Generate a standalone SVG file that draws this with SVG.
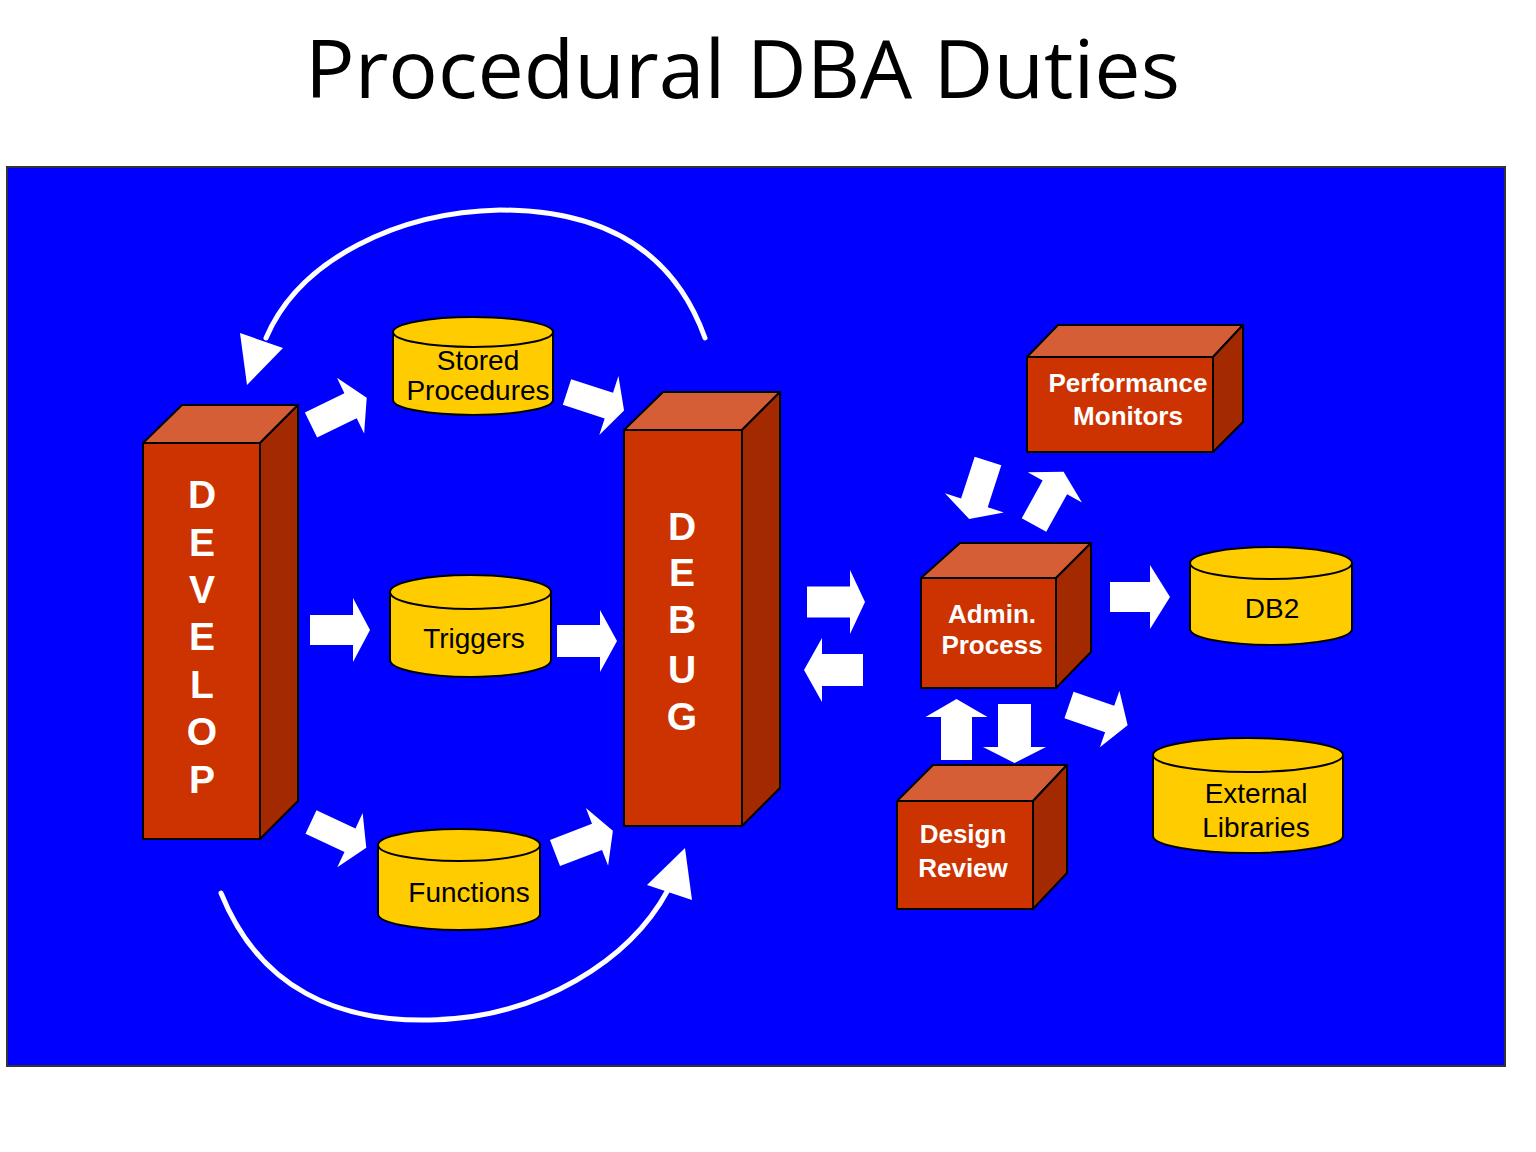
<svg xmlns="http://www.w3.org/2000/svg" width="1536" height="1152" viewBox="0 0 1536 1152">
<style>
.front{fill:#CC3300;stroke:#000;stroke-width:2;stroke-linejoin:round}
.top{fill:#D65E36;stroke:#000;stroke-width:2;stroke-linejoin:round}
.side{fill:#A32A00;stroke:#000;stroke-width:2;stroke-linejoin:round}
.cyl{fill:#FFCC00;stroke:#000;stroke-width:2}
.blk{fill:#fff}
.lbl{font-family:"Liberation Sans",Arial,sans-serif;font-weight:bold;font-size:26px;fill:#fff;text-anchor:middle}
.big{font-family:"Liberation Sans",Arial,sans-serif;font-weight:bold;font-size:39px;fill:#fff;text-anchor:middle}
.cl{font-family:"Liberation Sans",Arial,sans-serif;font-size:28px;fill:#000;text-anchor:middle}
.curve{fill:none;stroke:#fff;stroke-width:5;stroke-linecap:round}
</style>
<rect x="0" y="0" width="1536" height="1152" fill="#fff"/>
<text x="305" y="98" font-family="Open Sans, Noto Sans, sans-serif" font-size="81" fill="#000" textLength="875" lengthAdjust="spacingAndGlyphs">Procedural DBA Duties</text>
<rect x="7" y="167" width="1498" height="899" fill="#0000FF" stroke="#333" stroke-width="2"/>

<g id="develop">
<polygon class="top" points="143,443 182,405 298,405 260,443"/>
<polygon class="side" points="260,443 298,405 298,801 260,839"/>
<rect class="front" x="143" y="443" width="117" height="396"/>
<text class="big" x="202" y="508">D</text>
<text class="big" x="202" y="556">E</text>
<text class="big" x="202" y="603">V</text>
<text class="big" x="202" y="650">E</text>
<text class="big" x="202" y="698">L</text>
<text class="big" x="202" y="745">O</text>
<text class="big" x="202" y="793">P</text>
</g>

<g id="debug">
<polygon class="top" points="624,430 663,392 780,392 742,430"/>
<polygon class="side" points="742,430 780,392 780,788 742,826"/>
<rect class="front" x="624" y="430" width="118" height="396"/>
<text class="big" x="682" y="540">D</text>
<text class="big" x="682" y="586">E</text>
<text class="big" x="682" y="633">B</text>
<text class="big" x="682" y="683">U</text>
<text class="big" x="682" y="730">G</text>
</g>

<g id="stored">
<path class="cyl" d="M393,332 L393,400 A80,15 0 0 0 553,400 L553,332 Z"/>
<ellipse class="cyl" cx="473" cy="332" rx="80" ry="15"/>
<text class="cl" x="478" y="370">Stored</text>
<text class="cl" x="478" y="400">Procedures</text>
</g>

<g id="triggers">
<path class="cyl" d="M390,592 L390,660 A80.5,17 0 0 0 551,660 L551,592 Z"/>
<ellipse class="cyl" cx="470.5" cy="592" rx="80.5" ry="17"/>
<text class="cl" x="474" y="648">Triggers</text>
</g>

<g id="functions">
<path class="cyl" d="M378,845 L378,914 A81,16 0 0 0 540,914 L540,845 Z"/>
<ellipse class="cyl" cx="459" cy="845" rx="81" ry="16"/>
<text class="cl" x="469" y="902">Functions</text>
</g>

<g id="admin">
<polygon class="top" points="921,578 960,543 1091,543 1056,578"/>
<polygon class="side" points="1056,578 1091,543 1091,652 1056,688"/>
<rect class="front" x="921" y="578" width="135" height="110"/>
<text class="lbl" x="992" y="623">Admin.</text>
<text class="lbl" x="992" y="654">Process</text>
</g>

<g id="perf">
<polygon class="top" points="1027,357 1058,325 1243,325 1213,357"/>
<polygon class="side" points="1213,357 1243,325 1243,422 1213,452"/>
<rect class="front" x="1027" y="357" width="186" height="95"/>
<text class="lbl" x="1128" y="392">Performance</text>
<text class="lbl" x="1128" y="425">Monitors</text>
</g>

<g id="design">
<polygon class="top" points="897,801 933,765 1067,765 1033,801"/>
<polygon class="side" points="1033,801 1067,765 1067,873 1033,909"/>
<rect class="front" x="897" y="801" width="136" height="108"/>
<text class="lbl" x="963" y="843">Design</text>
<text class="lbl" x="963" y="877">Review</text>
</g>

<g id="db2">
<path class="cyl" d="M1190,563 L1190,629 A81,16 0 0 0 1352,629 L1352,563 Z"/>
<ellipse class="cyl" cx="1271" cy="563" rx="81" ry="16"/>
<text class="cl" x="1272" y="618">DB2</text>
</g>

<g id="extlib">
<path class="cyl" d="M1153,755 L1153,836 A95,17 0 0 0 1343,836 L1343,755 Z"/>
<ellipse class="cyl" cx="1248" cy="755" rx="95" ry="17"/>
<text class="cl" x="1256" y="803">External</text>
<text class="cl" x="1256" y="837">Libraries</text>
</g>

<g id="connectors">
<path class="curve" d="M705,338 C670,240 590,210 500,210 C400,212 300,258 266,338"/>
<polygon class="blk" points="240,333 283,348 247,385"/>
<path class="curve" d="M221,893 C260,990 340,1022 430,1020 C540,1018 630,960 668,890"/>
<polygon class="blk" points="647,885 692,900 685,848"/>

<polygon class="blk" transform="translate(311,425) rotate(-26)" points="0,-14 44,-14 44,-31 62,0 44,31 44,14 0,14"/>
<polygon class="blk" transform="translate(567,392) rotate(18)" points="0,-13.5 44,-13.5 44,-31 60,0 44,31 44,13.5 0,13.5"/>
<polygon class="blk" transform="translate(310,630)" points="0,-15 43,-15 43,-32 60,0 43,32 43,15 0,15"/>
<polygon class="blk" transform="translate(557,641)" points="0,-16 43,-16 43,-31 60,0 43,31 43,16 0,16"/>
<polygon class="blk" transform="translate(311,822) rotate(25)" points="0,-13 43,-13 43,-30 61,0 43,30 43,13 0,13"/>
<polygon class="blk" transform="translate(555,853) rotate(-21)" points="0,-14 45,-14 45,-31 62,0 45,31 45,14 0,14"/>

<polygon class="blk" transform="translate(807,602)" points="0,-15.5 43,-15.5 43,-32 58,0 43,32 43,15.5 0,15.5"/>
<polygon class="blk" transform="translate(863,670) rotate(180)" points="0,-16 41,-16 41,-32 59,0 41,32 41,16 0,16"/>
<polygon class="blk" transform="translate(1110,597)" points="0,-15 40,-15 40,-32 60,0 40,32 40,15 0,15"/>
<polygon class="blk" transform="translate(988,461) rotate(108)" points="0,-14 44,-14 44,-31 61,0 44,31 44,14 0,14"/>
<polygon class="blk" transform="translate(1034,525) rotate(-61)" points="0,-14 43,-14 43,-31 61,0 43,31 43,14 0,14"/>
<polygon class="blk" transform="translate(956.5,760) rotate(-90)" points="0,-15.5 43,-15.5 43,-31 61,0 43,31 43,15.5 0,15.5"/>
<polygon class="blk" transform="translate(1014.5,704) rotate(90)" points="0,-16.5 43,-16.5 43,-31.5 59,0 43,31.5 43,16.5 0,16.5"/>
<polygon class="blk" transform="translate(1069,705) rotate(19)" points="0,-14 43,-14 43,-30 62,0 43,30 43,14 0,14"/>
</g>
</svg>
